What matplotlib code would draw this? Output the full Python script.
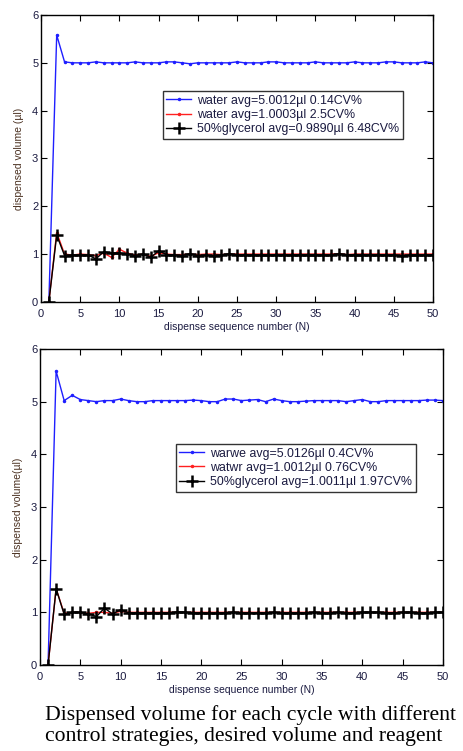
import matplotlib.pyplot as plt
import numpy as np

plt.rcParams['font.family'] = ['Liberation Sans', 'DejaVu Sans']

n = np.arange(1, 51)

# top panel
top_blue = [0, 5.58, 5.02, 5.0, 5.0, 5.0, 5.02, 5.0, 5.0, 5.0, 5.0, 5.02, 5.0, 5.0, 5.0, 5.02, 5.02,
            5.0, 4.98, 5.0, 5.0, 5.0, 5.0, 5.0, 5.02, 5.0, 5.0, 5.0, 5.02, 5.02, 5.0, 5.0, 5.0, 5.0,
            5.02, 5.0, 5.0, 5.0, 5.0, 5.02, 5.0, 5.0, 5.0, 5.02, 5.02, 5.0, 5.0, 5.0, 5.02, 5.0]
top_red = [0, 1.45, 1.0, 0.98, 1.0, 0.99, 0.97, 1.02, 0.93, 1.1, 1.02, 0.98, 1.0, 0.95, 1.03, 1.0,
           0.99, 0.99, 1.0, 0.99, 1.0, 1.0, 0.99, 1.0, 1.0, 1.0, 1.0, 1.0, 1.0, 1.0, 1.0, 1.0, 1.0,
           1.0, 1.0, 1.0, 1.0, 1.01, 0.99, 1.0, 1.0, 1.0, 1.0, 1.0, 1.0, 1.0, 1.0, 1.0, 1.0, 1.0]
top_black = [0, 1.4, 0.97, 0.98, 0.98, 0.98, 0.9, 1.05, 1.02, 1.02, 1.0, 0.97, 1.0, 0.93, 1.07, 0.99,
             0.98, 0.97, 1.01, 0.97, 0.98, 0.97, 0.98, 1.01, 0.98, 0.99, 0.98, 0.98, 0.98, 0.99, 0.99,
             0.98, 0.99, 0.99, 0.99, 0.98, 0.98, 1.01, 0.98, 0.99, 0.99, 0.99, 0.99, 0.98, 0.98, 0.97,
             0.98, 0.98, 0.98, 0.99]
top_labels = ['water avg=5.0012\u00b5l 0.14CV%',
              'water avg=1.0003\u00b5l 2.5CV%',
              '50%glycerol avg=0.9890\u00b5l 6.48CV%']

# bottom panel
bot_blue = [0, 5.58, 5.02, 5.12, 5.04, 5.02, 5.0, 5.02, 5.02, 5.05, 5.02, 5.0, 5.0, 5.02, 5.02, 5.02,
            5.02, 5.02, 5.03, 5.02, 5.0, 5.0, 5.05, 5.05, 5.02, 5.03, 5.04, 5.0, 5.05, 5.02, 5.0, 5.0,
            5.01, 5.02, 5.02, 5.02, 5.02, 5.0, 5.02, 5.04, 5.0, 5.0, 5.02, 5.02, 5.02, 5.02, 5.02,
            5.03, 5.03, 5.02]
bot_red = [0, 1.45, 0.98, 1.0, 1.0, 0.98, 1.0, 1.0, 0.98, 1.02, 1.0, 1.0, 1.0, 1.0, 1.0, 1.0, 1.0,
           1.0, 1.0, 1.0, 1.0, 1.0, 1.0, 1.0, 1.0, 1.0, 1.0, 1.0, 1.0, 1.0, 1.0, 1.0, 1.0, 1.0, 1.0,
           1.0, 1.0, 1.0, 1.0, 1.0, 1.0, 1.0, 1.0, 1.0, 1.0, 1.0, 1.0, 1.0, 1.0, 1.0]
bot_black = [0, 1.45, 0.96, 1.0, 1.0, 0.97, 0.92, 1.08, 0.97, 1.05, 0.99, 0.99, 0.99, 0.99, 0.99, 0.99,
             1.01, 1.0, 0.99, 0.99, 0.98, 0.98, 0.99, 1.0, 0.99, 0.99, 0.99, 0.99, 1.0, 0.99, 0.99,
             0.99, 0.99, 1.0, 0.99, 0.99, 1.0, 0.99, 0.99, 1.0, 1.0, 1.0, 0.99, 0.99, 1.0, 1.0, 0.99,
             0.99, 1.0, 1.0]
bot_labels = ['warwe avg=5.0126\u00b5l 0.4CV%',
              'watwr avg=1.0012\u00b5l 0.76CV%',
              '50%glycerol avg=1.0011\u00b5l 1.97CV%']

caption = 'Dispensed volume for each cycle with different\ncontrol strategies, desired volume and reagent'

fig = plt.figure(figsize=(4.63, 7.51), dpi=100)
ax1 = fig.add_axes([0.0886, 0.598, 0.8467, 0.382])
ax2 = fig.add_axes([0.0864, 0.1145, 0.870, 0.4208])

def panel(ax, blue, red, black, labels, ylab, leg_anchor):
    ax.plot(n, blue, '-', color='#1f1fff', lw=1.0, marker='.', ms=3, label=labels[0])
    ax.plot(n, red, '-', color='#ff2020', lw=1.0, marker='.', ms=3, label=labels[1])
    ax.plot(n, black, '-', color='black', lw=1.0, marker='+', ms=8, mew=1.8, label=labels[2])
    ax.set_xlim(0, 50)
    ax.set_ylim(0, 6)
    ax.set_xticks(range(0, 51, 5))
    ax.set_yticks(range(0, 7))
    ax.tick_params(direction='in', top=True, right=True, labelsize=8, length=4,
                   labelcolor='#1a1a40', pad=2)
    ax.tick_params(axis='x', pad=5)
    for s in ax.spines.values():
        s.set_linewidth(1.0)
    ax.set_xlabel('dispense sequence number (N)', fontsize=7.5, color='#1a1a40', labelpad=2)
    ax.set_ylabel(ylab, fontsize=7.5, color='#4a3020', labelpad=6)
    leg = ax.legend(loc='upper left', bbox_to_anchor=leg_anchor, fontsize=8.9, frameon=True,
                    fancybox=False, edgecolor='black', handlelength=2.0, borderpad=0.3,
                    labelspacing=0.18, handletextpad=0.5, borderaxespad=0)
    leg.get_frame().set_linewidth(1.0)
    for t in leg.get_texts():
        t.set_color('#1a1a40')

panel(ax1, top_blue, top_red, top_black, top_labels, 'dispensed volume (\u00b5l)', (0.31, 0.735))
panel(ax2, bot_blue, bot_red, bot_black, bot_labels, 'dispensed volume(\u00b5l)', (0.337, 0.70))

fig.text(45 / 463, 1 - 705 / 751, caption, fontsize=15.6, family='Liberation Serif',
         va='top', ha='left', linespacing=1.15)

fig.savefig('out.png', dpi=100)
